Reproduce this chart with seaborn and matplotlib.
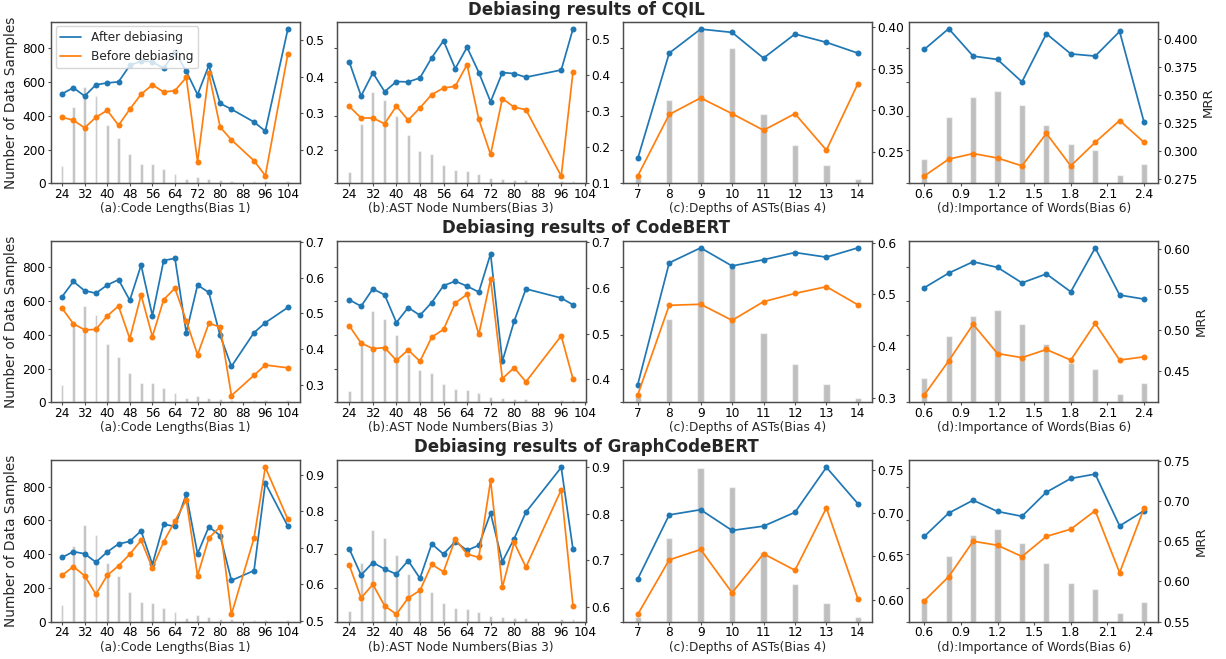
import numpy as np, pandas as pd
import matplotlib
matplotlib.use("Agg")
import matplotlib.pyplot as plt
from matplotlib.lines import Line2D
from matplotlib.ticker import MultipleLocator
import seaborn as sns

# ── bins + number of samples per bin (same for every model) ──────────
code_len     = [24, 28, 32, 36, 40, 44, 48, 52, 56, 60, 64, 68, 72, 76, 80, 84, 92, 96, 104]
code_len_cnt = [100, 450, 570, 515, 345, 270, 176, 115, 112, 84, 55, 24, 37, 25, 18, 14, 13, 13, 13]
ast_node     = [24, 28, 32, 36, 40, 44, 48, 52, 56, 60, 64, 68, 72, 76, 80, 84, 96, 100]
ast_node_cnt = [65, 350, 543, 495, 396, 285, 190, 173, 110, 79, 73, 56, 31, 25, 20, 22, 14, 14]
ast_depth     = [7, 8, 9, 10, 11, 12, 13, 14]
ast_depth_cnt = [29, 496, 912, 799, 412, 224, 109, 25]
word_imp     = [0.6, 0.8, 1.0, 1.2, 1.4, 1.6, 1.8, 2.0, 2.2, 2.4]
word_imp_cnt = [143, 390, 512, 549, 465, 345, 231, 196, 50, 114]
word_imp_ticks = [0.6, 0.9, 1.2, 1.5, 1.8, 2.1, 2.4]

# ── MRR : CQIL ────────────────────────────────────────────────────────
cqil_a_after  = [0.353, 0.370, 0.347, 0.378, 0.383, 0.386, 0.431, 0.443, 0.441, 0.423, 0.468, 0.415, 0.351, 0.431, 0.327, 0.311, 0.276, 0.251, 0.531]
cqil_a_before = [0.289, 0.281, 0.260, 0.289, 0.308, 0.267, 0.311, 0.352, 0.378, 0.358, 0.362, 0.398, 0.167, 0.409, 0.262, 0.227, 0.170, 0.129, 0.463]
cqil_b_after  = [0.435, 0.341, 0.405, 0.353, 0.381, 0.380, 0.391, 0.447, 0.494, 0.417, 0.476, 0.406, 0.325, 0.406, 0.403, 0.393, 0.413, 0.527]
cqil_b_before = [0.312, 0.280, 0.280, 0.264, 0.313, 0.274, 0.308, 0.345, 0.363, 0.368, 0.428, 0.276, 0.179, 0.334, 0.310, 0.303, 0.119, 0.408]
cqil_c_after  = [0.242, 0.369, 0.398, 0.394, 0.363, 0.392, 0.382, 0.369]
cqil_c_before = [0.221, 0.295, 0.315, 0.296, 0.276, 0.296, 0.252, 0.332]
cqil_d_after  = [0.391, 0.4095, 0.385, 0.382, 0.362, 0.405, 0.387, 0.385, 0.407, 0.326]
cqil_d_before = [0.278, 0.293, 0.298, 0.294, 0.287, 0.316, 0.287, 0.308, 0.3275, 0.308]

# ── MRR : CodeBERT ────────────────────────────────────────────────────
cb_a_after  = [0.547, 0.590, 0.564, 0.557, 0.580, 0.595, 0.537, 0.636, 0.494, 0.649, 0.655, 0.446, 0.580, 0.559, 0.438, 0.351, 0.446, 0.474, 0.517]
cb_a_before = [0.515, 0.471, 0.454, 0.455, 0.493, 0.521, 0.429, 0.552, 0.435, 0.539, 0.571, 0.479, 0.384, 0.472, 0.462, 0.269, 0.326, 0.355, 0.347]
cb_b_after  = [0.574, 0.560, 0.598, 0.585, 0.524, 0.557, 0.540, 0.568, 0.605, 0.615, 0.604, 0.591, 0.675, 0.439, 0.527, 0.598, 0.578, 0.563]
cb_b_before = [0.517, 0.479, 0.467, 0.469, 0.441, 0.464, 0.439, 0.492, 0.509, 0.567, 0.586, 0.498, 0.619, 0.401, 0.425, 0.394, 0.495, 0.400]
cb_c_after  = [0.326, 0.561, 0.590, 0.555, 0.567, 0.581, 0.572, 0.590]
cb_c_before = [0.306, 0.479, 0.481, 0.450, 0.486, 0.502, 0.515, 0.480]
cb_d_after  = [0.552, 0.570, 0.584, 0.577, 0.558, 0.569, 0.547, 0.601, 0.543, 0.538]
cb_d_before = [0.420, 0.462, 0.507, 0.471, 0.466, 0.476, 0.463, 0.508, 0.463, 0.467]

# ── MRR : GraphCodeBERT ───────────────────────────────────────────────
gcb_a_after  = [0.674, 0.690, 0.684, 0.661, 0.689, 0.711, 0.718, 0.747, 0.655, 0.765, 0.759, 0.847, 0.684, 0.758, 0.734, 0.611, 0.638, 0.878, 0.759]
gcb_a_before = [0.625, 0.649, 0.624, 0.573, 0.625, 0.651, 0.683, 0.721, 0.645, 0.717, 0.774, 0.832, 0.624, 0.727, 0.758, 0.518, 0.727, 0.921, 0.778]
gcb_b_after  = [0.724, 0.668, 0.695, 0.681, 0.670, 0.699, 0.661, 0.735, 0.713, 0.740, 0.721, 0.732, 0.801, 0.697, 0.746, 0.803, 0.899, 0.723]
gcb_b_before = [0.689, 0.619, 0.648, 0.602, 0.584, 0.619, 0.635, 0.691, 0.675, 0.745, 0.713, 0.706, 0.871, 0.642, 0.738, 0.685, 0.851, 0.602]
gcb_c_after  = [0.624, 0.698, 0.704, 0.680, 0.685, 0.701, 0.753, 0.711]
gcb_c_before = [0.583, 0.646, 0.658, 0.608, 0.653, 0.634, 0.706, 0.601]
gcb_d_after  = [0.656, 0.685, 0.701, 0.687, 0.681, 0.711, 0.728, 0.7335, 0.669, 0.688]
gcb_d_before = [0.576, 0.606, 0.650, 0.645, 0.631, 0.656, 0.665, 0.688, 0.611, 0.691]

models = ["CQIL", "CodeBERT", "GraphCodeBERT"]
xlabels = ["(a):Code Lengths(Bias 1)", "(b):AST Node Numbers(Bias 3)",
           "(c):Depths of ASTs(Bias 4)", "(d):Importance of Words(Bias 6)"]

sns.set_style("ticks")
plt.rcParams["font.family"] = ["DejaVu Sans"]
plt.rcParams.update({
    "axes.edgecolor": "0.3", "axes.linewidth": 0.9,
    "xtick.color": "0.3", "ytick.color": "0.3",
    "xtick.labelcolor": "black", "ytick.labelcolor": "black",
    "xtick.major.size": 2.2, "ytick.major.size": 2.2,
    "xtick.major.pad": 1.2, "ytick.major.pad": 1.5,
})

BLUE, ORANGE = "#1f77b4", "#ff7f0e"
FS = 8.7

fig = plt.figure(figsize=(12.26, 6.59), dpi=100)
lefts   = [0.0414, 0.2746, 0.5084, 0.7417]
bottoms = [0.7218, 0.3895, 0.0566]
W, H = 0.2031, 0.2454

panels = [
    (code_len,  code_len_cnt,  0.25, (20.0, 108.2)),
    (ast_node,  ast_node_cnt,  0.25, (19.7, 104.3)),
    (ast_depth, ast_depth_cnt, 0.20, (6.54, 14.46)),
    (word_imp,  word_imp_cnt,  0.25, (0.4775, 2.517)),
]
mrr = [
    [(cqil_a_after, cqil_a_before), (cqil_b_after, cqil_b_before),
     (cqil_c_after, cqil_c_before), (cqil_d_after, cqil_d_before)],
    [(cb_a_after, cb_a_before), (cb_b_after, cb_b_before),
     (cb_c_after, cb_c_before), (cb_d_after, cb_d_before)],
    [(gcb_a_after, gcb_a_before), (gcb_b_after, gcb_b_before),
     (gcb_c_after, gcb_c_before), (gcb_d_after, gcb_d_before)],
]
# right axis limits
mrr_lims = [
    [(0.108, 0.551), (0.099, 0.547), (0.212, 0.407), (0.2714, 0.4158)],
    [(0.250, 0.705), (0.349, 0.704), (0.2916, 0.604), (0.411, 0.610)],
    [(0.498, 0.941), (0.568, 0.915), (0.5745, 0.7615), (0.550, 0.751)],
]
title_y = [0.985, 0.654, 0.3217]

first = None
for r, model in enumerate(models):
    for c, (xs, cnt, bw, xlim) in enumerate(panels):
        ax = fig.add_axes([lefts[c], bottoms[r], W, H])
        if first is None:
            first = ax
        else:
            ax.sharey(first)
        sns.barplot(x=xs, y=cnt, native_scale=True, width=bw, color="grey",
                    alpha=0.5, saturation=1, errorbar=None, ax=ax, zorder=1)
        ax.set_ylim(0, 957)
        ax.set_xlim(*xlim)
        if c == 3:
            ax.set_xticks(word_imp_ticks)
            ax.set_xticklabels([f"{t:.1f}" for t in word_imp_ticks])
        else:
            ax.xaxis.set_major_locator(MultipleLocator(8 if c < 2 else 1))
        ax.tick_params(labelsize=FS)
        ax.set_xlabel(xlabels[c], fontsize=FS, labelpad=1)
        if c == 0:
            ax.set_ylabel("Number of Data Samples", fontsize=9.8, labelpad=3)
        else:
            ax.set_ylabel("")
            ax.tick_params(labelleft=False)

        ax2 = ax.twinx()
        after, before = mrr[r][c]
        sns.lineplot(x=xs, y=after, color=BLUE, marker="o", markersize=4.3,
                     markeredgewidth=0, linewidth=1.25, ax=ax2)
        sns.lineplot(x=xs, y=before, color=ORANGE, marker="o", markersize=4.3,
                     markeredgewidth=0, linewidth=1.25, ax=ax2)
        ax2.set_ylim(*mrr_lims[r][c])
        ax2.set_xlim(*xlim)
        ax2.tick_params(labelsize=FS)
        if c == 3:
            ax2.set_ylabel("MRR", fontsize=9.5, labelpad=3)
        if r == 0 and c == 0:
            handles = [Line2D([], [], color=BLUE, lw=1.25),
                       Line2D([], [], color=ORANGE, lw=1.25)]
            ax2.legend(handles, ["After debiasing", "Before debiasing"],
                       loc="upper left", fontsize=FS, frameon=True,
                       handlelength=1.7, borderaxespad=0.4)

    fig.text(0.478, title_y[r], f"Debiasing results of {model}",
             ha="center", va="center", fontsize=12, fontweight="bold")

fig.savefig("out.png", dpi=100)
